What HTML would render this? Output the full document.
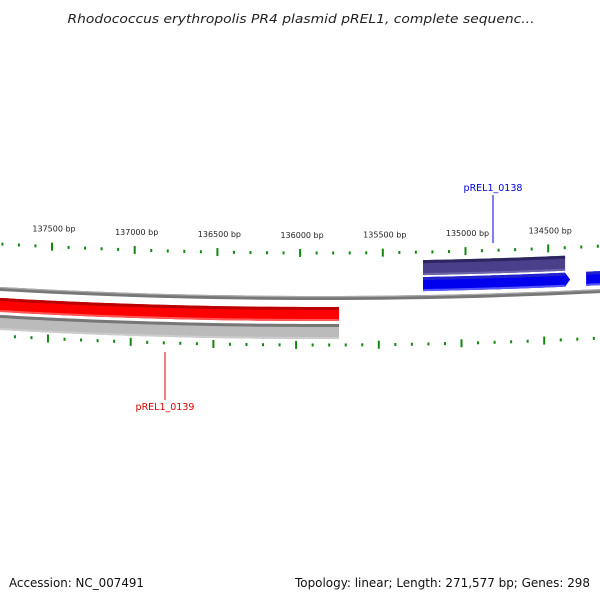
<!DOCTYPE html>
<html><head><meta charset="utf-8">
<style>
html,body{margin:0;padding:0;background:#fff;}
svg{display:block;font-family:"DejaVu Sans","Liberation Sans",sans-serif;}
</style></head>
<body>
<svg id="chart" width="600" height="600" viewBox="0 0 600 600" xmlns="http://www.w3.org/2000/svg">
  <text x="301" y="23" text-anchor="middle" font-size="12.5" font-style="italic" fill="#222" textLength="467" lengthAdjust="spacingAndGlyphs">Rhodococcus erythropolis PR4 plasmid pREL1, complete sequenc...</text>
  <g id="ticks-top"></g>
  <g id="ticks-bottom"></g>
  <g id="tracks"></g>
  <text x="493" y="191" text-anchor="middle" font-size="9.5" fill="#0000dd">pREL1_0138</text>
  <line x1="493" y1="195" x2="493" y2="243" stroke="#0000dd" stroke-width="1"/>
  <text x="165" y="410" text-anchor="middle" font-size="9.5" fill="#dd0000">pREL1_0139</text>
  <line x1="165" y1="352" x2="165" y2="400" stroke="#dd0000" stroke-width="1"/>
  <text x="9" y="587" font-size="12.5" fill="#111" textLength="135" lengthAdjust="spacingAndGlyphs">Accession: NC_007491</text>
  <text x="295" y="587" font-size="12.5" fill="#111" textLength="295" lengthAdjust="spacingAndGlyphs">Topology: linear; Length: 271,577 bp; Genes: 298</text>
</svg>
<script>
// data
const majorTicks = [138000, 137500, 137000, 136500, 136000, 135500, 135000, 134500, 134000];
const majorLabels = ["138000 bp","137500 bp","137000 bp","136500 bp","136000 bp","135500 bp","135000 bp","134500 bp","134000 bp"];
const geneNames = ["pREL1_0139", "pREL1_0139-shadow", "pREL1_0138-homolog", "pREL1_0138", "next-gene"];
const geneStart = [139000, 139000, 135257, 135257, 134271];
const geneEnd = [135765, 135765, 134398, 134398, 133800];
const geneStrand = [-1, -2, 2, 1, 1];

const NS = "http://www.w3.org/2000/svg";
const bpToX = bp => 52 + (137500 - bp) * 82.7 / 500;
const arc = x => 8.8e-5 * (x - 320) * (x - 320);
const backbone = x => 299 - arc(x);
const clampX = x => Math.max(-5, Math.min(605, x));

function mk(tag, attrs, parent) {
  const el = document.createElementNS(NS, tag);
  for (const k in attrs) el.setAttribute(k, attrs[k]);
  parent.appendChild(el);
  return el;
}

// ticks
const topG = document.getElementById('ticks-top');
const botG = document.getElementById('ticks-bottom');
const bpMin = 133500, bpMax = 138200;
for (let bp = Math.ceil(bpMin / 100) * 100; bp <= bpMax; bp += 100) {
  const major = bp % 500 === 0;
  const x = bpToX(bp);
  if (x >= -2 && x <= 602) {
    const yT = 253 - arc(x);
    const t = mk('rect', {x: x - 1, y: major ? yT - 4 : yT - 1.5, width: 2, height: major ? 8 : 3, fill: '#118811'}, topG);
    
    
  }
  const xb = x - 4;
  if (xb >= -2 && xb <= 602) {
    const yB = 345 - arc(xb);
    const b = mk('rect', {x: xb - 1, y: major ? yB - 4 : yB - 1.5, width: 2, height: major ? 8 : 3, fill: '#118811'}, botG);
    
    
  }
}
majorTicks.forEach((bp, i) => {
  const x = bpToX(bp);
  if (x < 10 || x > 590) return;
  const lbl = mk('text', {x: x + 2, y: 253 - arc(x) - 15, 'text-anchor': 'middle', 'font-size': 8, fill: '#222'}, topG);
  lbl.textContent = majorLabels[i];
  
  
});

// backbone and tracks
const tr = document.getElementById('tracks');
function band(x0, x1, off0, off1, fill, name, arrow) {
  const pts = [];
  const n = 30;
  for (let i = 0; i <= n; i++) { const x = x0 + (x1 - x0) * i / n; pts.push([x, backbone(x) + off0]); }
  if (arrow) { const x = x1 + 5; pts.push([x, backbone(x) + (off0 + off1) / 2]); }
  for (let i = n; i >= 0; i--) { const x = x0 + (x1 - x0) * i / n; pts.push([x, backbone(x) + off1]); }
  const p = mk('polygon', {points: pts.map(p => p[0].toFixed(1) + ',' + p[1].toFixed(1)).join(' '), fill: fill}, tr);
  
  
  return p;
}
band(-5, 605, -3, 1, '#777777', 'backbone', false);
band(-5, 605, -3, -1.8, '#aaaaaa', 'backbone-highlight', false);

const strandOff = {"1": [-21, -7], "2": [-38, -23], "-1": [8, 22], "-2": [25, 40]};
const strandFill = {"1": ['#0000ee', '#2222cc', '#5555ff'], "2": ['#4a3f8a', '#2c2560', '#6c64a8'], "-1": ['#ff0000', '#bb0000', '#ff5555'], "-2": ['#bbbbbb', '#777777', '#cccccc']};
geneNames.forEach((name, i) => {
  const xa = clampX(bpToX(geneStart[i])), xb = clampX(bpToX(geneEnd[i]));
  const x0 = Math.min(xa, xb), x1 = Math.max(xa, xb);
  const [o0, o1] = strandOff[String(geneStrand[i])];
  const f = strandFill[String(geneStrand[i])];
  const arrow = geneStrand[i] === 1 && x1 < 600;
  const safe = name.toLowerCase().replace(/[^a-z0-9]+/g, '-');
  band(x0, x1, o0, o1, f[0], 'gene-' + safe, arrow);
  band(x0, x1, o0, o0 + 3, f[1], 'gene-edge-' + safe, false);
  band(x0, x1, o1 - 2, o1, f[2], 'gene-shade-' + safe, false);
});
</script>
</body></html>
